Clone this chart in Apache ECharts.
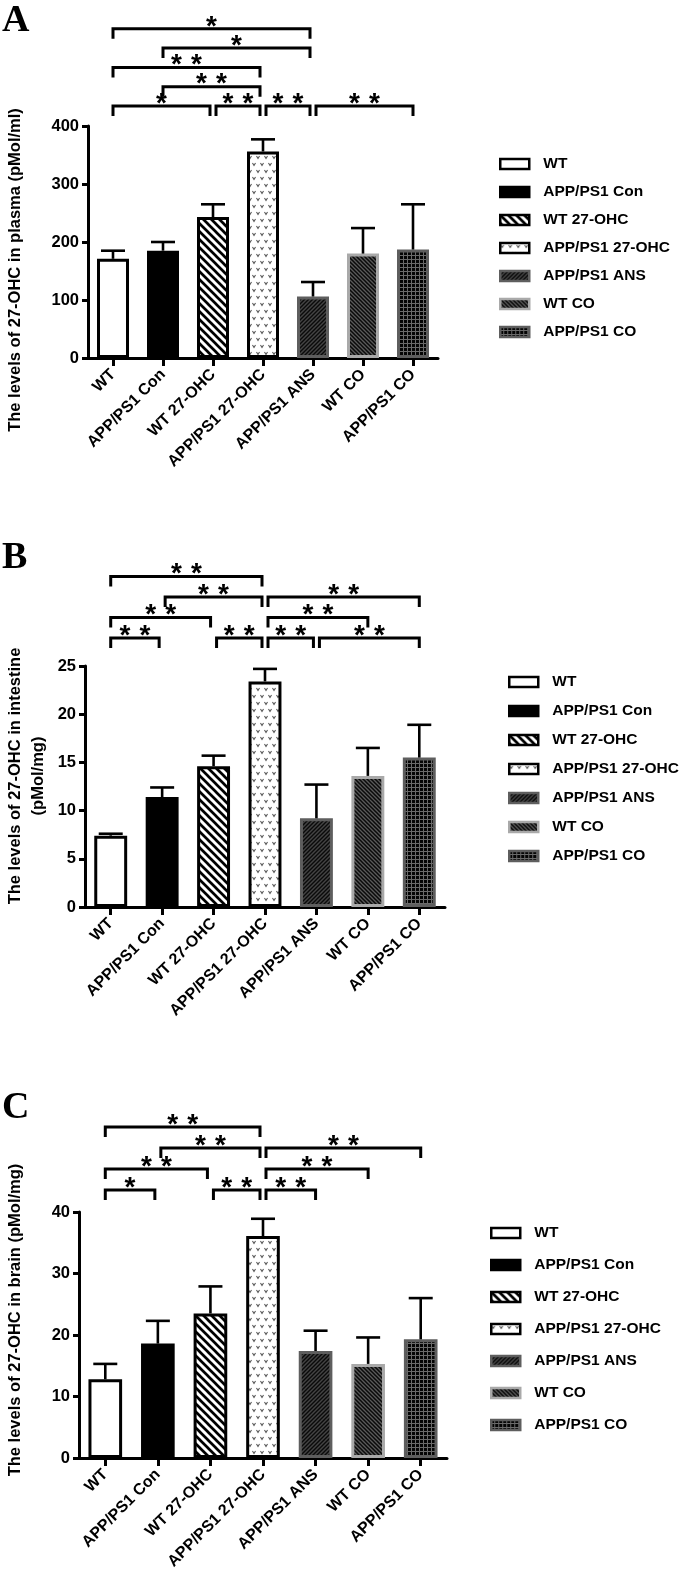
<!DOCTYPE html>
<html><head><meta charset="utf-8">
<script src="https://cdn.jsdelivr.net/npm/echarts@6/dist/echarts.min.js"></script>
<style>html,body{margin:0;padding:0;background:#fff}#c{width:685px;height:1583px}</style>
</head><body><div id="c"></div>
<script>
// ---------- data ----------
const categories = ['WT', 'APP/PS1 Con', 'WT 27-OHC', 'APP/PS1 27-OHC', 'APP/PS1 ANS', 'WT CO', 'APP/PS1 CO'];

const plasmaMean = [171, 185, 243, 356, 106, 180, 187];
const plasmaSD   = [14, 15, 22, 21, 25, 44, 78];
const plasmaTicks = [0, 100, 200, 300, 400];
// [from, to, level, label]
const plasmaSig = [[0,2,1,'*'],[2,3,1,'* *'],[3,4,1,'* *'],[4,6,1,'* *'],[1,3,2,'* *'],[0,3,3,'* *'],[1,4,4,'*'],[0,4,5,'*']];

const intestineMean = [7.4, 11.4, 14.6, 23.4, 9.2, 13.6, 15.5];
const intestineSD   = [0.2, 1.0, 1.1, 1.3, 3.5, 2.9, 3.4];
const intestineTicks = [0, 5, 10, 15, 20, 25];
const intestineSig = [[0,1,1,'* *'],[2,3,1,'* *'],[3,4,1,'* *'],[4,6,1,'* *'],[0,2,2,'* *'],[3,5,2,'* *'],[1,3,3,'* *'],[3,6,3,'* *'],[0,3,4,'* *']];

const brainMean = [12.8, 18.6, 23.5, 36.1, 17.4, 15.3, 19.3];
const brainSD   = [2.5, 3.7, 4.4, 2.8, 3.3, 4.3, 6.7];
const brainTicks = [0, 10, 20, 30, 40];
const brainSig = [[0,1,1,'*'],[2,3,1,'* *'],[3,4,1,'* *'],[0,2,2,'* *'],[3,5,2,'* *'],[1,3,3,'* *'],[3,6,3,'* *'],[0,3,4,'* *']];

const panelLetters = ['A', 'B', 'C'];
const yTitles = ['The levels of 27-OHC in plasma (pMol/ml)', 'The levels of 27-OHC in intestine\n(pMol/mg)', 'The levels of 27-OHC in brain (pMol/mg)'];

// ---------- layout / style ----------
const FONT = '"Liberation Sans", Arial, Helvetica, sans-serif';
const panels = [
  {mean: plasmaMean, sd: plasmaSD, ticks: plasmaTicks, sig: plasmaSig,
   grid: {left: 88, top: 126, width: 350, height: 232},
   br: {first: 20, step: 19.3},
   legend: {left: 494, top: 151, gap: 12},
   title: {x: 15, y: 270}, letter: {x: 2, y: 2}},
  {mean: intestineMean, sd: intestineSD, ticks: intestineTicks, sig: intestineSig,
   grid: {left: 85, top: 666, width: 360, height: 241},
   br: {first: 28, step: 20.5},
   legend: {left: 503, top: 669, gap: 13},
   title: {x: 26.5, y: 776}, letter: {x: 2, y: 539}},
  {mean: brainMean, sd: brainSD, ticks: brainTicks, sig: brainSig,
   grid: {left: 79, top: 1212, width: 368, height: 246},
   br: {first: 22, step: 21},
   legend: {left: 485, top: 1220, gap: 16},
   title: {x: 15, y: 1320}, letter: {x: 2, y: 1089}}
];

function tile(w, h, draw) {
  const c = document.createElement('canvas');
  c.width = w; c.height = h;
  const g = c.getContext('2d');
  draw(g, w, h);
  return {image: c, repeat: 'repeat'};
}
const patWT27 = tile(8, 8, (g) => {
  g.fillStyle = '#fff'; g.fillRect(0, 0, 8, 8);
  g.strokeStyle = '#000'; g.lineWidth = 2.7;
  g.beginPath();
  g.moveTo(-2, -2); g.lineTo(10, 10);
  g.moveTo(-2, 6); g.lineTo(2, 10);
  g.moveTo(6, -2); g.lineTo(10, 2);
  g.stroke();
});
const patAPP27 = tile(8, 14, (g) => {
  g.fillStyle = '#fff'; g.fillRect(0, 0, 8, 14);
  g.strokeStyle = '#555'; g.lineWidth = 1.1;
  g.beginPath();
  g.moveTo(0.5, 2); g.lineTo(2, 4.5); g.lineTo(3.5, 2);
  g.moveTo(4.5, 9); g.lineTo(6, 11.5); g.lineTo(7.5, 9);
  g.stroke();
});
const patANS = tile(4, 4, (g) => {
  g.fillStyle = '#444'; g.fillRect(0, 0, 4, 4);
  g.strokeStyle = '#0a0a0a'; g.lineWidth = 1.4;
  g.beginPath();
  g.moveTo(-1, 5); g.lineTo(5, -1);
  g.moveTo(-1, 1); g.lineTo(1, -1);
  g.moveTo(3, 5); g.lineTo(5, 3);
  g.stroke();
});
const patWTCO = tile(4, 4, (g) => {
  g.fillStyle = '#5a5a5a'; g.fillRect(0, 0, 4, 4);
  g.strokeStyle = '#0a0a0a'; g.lineWidth = 1.5;
  g.beginPath();
  g.moveTo(-1, -1); g.lineTo(5, 5);
  g.moveTo(-1, 3); g.lineTo(1, 5);
  g.moveTo(3, -1); g.lineTo(5, 1);
  g.stroke();
});
const patAPPCO = tile(4, 4, (g) => {
  g.fillStyle = '#6a6a6a'; g.fillRect(0, 0, 4, 4);
  g.fillStyle = '#050505'; g.fillRect(0, 0, 3, 3);
});

const barStyles = [
  {color: '#ffffff', borderColor: '#000', borderWidth: 3},
  {color: '#000000', borderColor: '#000', borderWidth: 3},
  {color: patWT27, borderColor: '#000', borderWidth: 3},
  {color: patAPP27, borderColor: '#000', borderWidth: 3},
  {color: patANS, borderColor: '#5e5e5e', borderWidth: 3},
  {color: patWTCO, borderColor: '#a9a9a9', borderWidth: 3},
  {color: patAPPCO, borderColor: '#5e5e5e', borderWidth: 3}
];

// ---------- build option ----------
const grids = [], xAxes = [], yAxes = [], series = [], legends = [], graphics = [];

panels.forEach((p, pi) => {
  grids.push(Object.assign({outerBoundsMode: 'none', containLabel: false}, p.grid));
  xAxes.push({
    type: 'category', gridIndex: pi, data: categories, boundaryGap: true,
    axisLine: {show: true, lineStyle: {color: '#000', width: 3}},
    axisTick: {show: true, alignWithLabel: true, length: 8, lineStyle: {color: '#000', width: 3}},
    axisLabel: {rotate: 45, margin: 14, interval: 0, color: '#000', fontWeight: 'bold', fontSize: 16, fontFamily: FONT},
    splitLine: {show: false}
  });
  const t = p.ticks;
  yAxes.push({
    type: 'value', gridIndex: pi, min: t[0], max: t[t.length - 1], interval: t[1] - t[0],
    axisLine: {show: true, lineStyle: {color: '#000', width: 3}},
    axisTick: {show: true, length: 6, lineStyle: {color: '#000', width: 3}},
    axisLabel: {margin: 9, color: '#000', fontWeight: 'bold', fontSize: 16.5, fontFamily: FONT},
    splitLine: {show: false}
  });

  categories.forEach((name, i) => {
    series.push({
      type: 'bar', name: name, xAxisIndex: pi, yAxisIndex: pi,
      data: p.mean.map((v, j) => (j === i ? v : '-')),
      barWidth: '64%', barGap: '-100%',
      itemStyle: barStyles[i],
      emphasis: {disabled: true}, silent: true
    });
  });

  // error bars
  series.push({
    type: 'custom', xAxisIndex: pi, yAxisIndex: pi, silent: true, z: 5,
    data: p.mean.map((m, i) => [i, m, m + p.sd[i]]),
    renderItem: (params, api) => {
      const a = api.coord([api.value(0), api.value(1)]);
      const b = api.coord([api.value(0), api.value(2)]);
      return {type: 'group', children: [
        {type: 'line', shape: {x1: a[0], y1: a[1], x2: b[0], y2: b[1]}, style: {stroke: '#000', lineWidth: 2.6}},
        {type: 'line', shape: {x1: b[0] - 12, y1: b[1], x2: b[0] + 12, y2: b[1]}, style: {stroke: '#000', lineWidth: 2.6}}
      ]};
    }
  });

  // significance brackets
  const rights = new Set(p.sig.map(d => d[1]));
  const lefts = new Set(p.sig.map(d => d[0]));
  const shared = new Set([...rights].filter(v => lefts.has(v)));
  series.push({
    type: 'custom', xAxisIndex: pi, yAxisIndex: pi, silent: true, clip: false, z: 6,
    data: p.sig.map(d => [d[0], d[1], d[2]]),
    renderItem: (params, api) => {
      const d = p.sig[params.dataIndex];
      const cs = params.coordSys;
      let x1 = api.coord([d[0], 0])[0];
      let x2 = api.coord([d[1], 0])[0];
      if (shared.has(d[0])) x1 += 3;
      if (shared.has(d[1])) x2 -= 3;
      const y = cs.y - p.br.first - (d[2] - 1) * p.br.step;
      const leg = 10;
      const children = [
        {type: 'polyline', shape: {points: [[x1, y + leg], [x1, y], [x2, y], [x2, y + leg]]},
         style: {stroke: '#000', lineWidth: 3, fill: null, lineJoin: 'miter', lineCap: 'butt'}}
      ];
      const stars = d[3].split(' ').filter(Boolean);
      const cx = (x1 + x2) / 2;
      stars.forEach((s, k) => {
        children.push({type: 'text', style: {text: s, x: cx + (k - (stars.length - 1) / 2) * 20, y: y - 2,
          align: 'center', verticalAlign: 'middle', font: 'bold 28px ' + FONT, fill: '#000'}});
      });
      return {type: 'group', children: children};
    }
  });

  legends.push({
    orient: 'vertical', left: p.legend.left, top: p.legend.top,
    itemWidth: 29, itemHeight: 10, itemGap: p.legend.gap, icon: 'rect',
    selectedMode: false, data: categories,
    itemStyle: {borderWidth: 2.5},
    textStyle: {color: '#000', fontWeight: 'bold', fontSize: 15.5, fontFamily: FONT, lineHeight: 16, padding: [0, 0, 0, 9]}
  });

  graphics.push({
    type: 'text', x: p.title.x, y: p.title.y, rotation: Math.PI / 2,
    style: {text: yTitles[pi], align: 'center', verticalAlign: 'middle', lineHeight: 23,
            font: 'bold 16.5px ' + FONT, fill: '#000'}
  });
  graphics.push({
    type: 'text', x: p.letter.x, y: p.letter.y,
    style: {text: panelLetters[pi], align: 'left', verticalAlign: 'top',
            font: 'bold 38px "Liberation Serif", "Times New Roman", serif', fill: '#000'}
  });
});

const chart = echarts.init(document.getElementById('c'), null, {renderer: 'canvas'});
chart.setOption({
  backgroundColor: '#fff',
  animation: false,
  grid: grids, xAxis: xAxes, yAxis: yAxes,
  legend: legends, series: series, graphic: graphics
});
</script></body></html>
